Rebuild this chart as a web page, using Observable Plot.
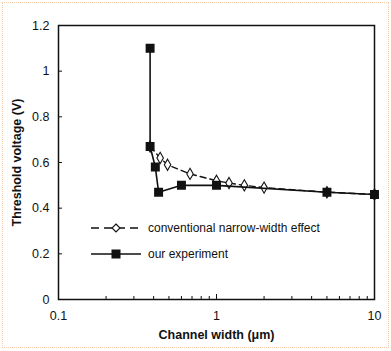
<!DOCTYPE html>
<html>
<head>
<meta charset="utf-8">
<script src="https://cdn.jsdelivr.net/npm/d3@7"></script>
<script src="https://cdn.jsdelivr.net/npm/@observablehq/plot@0.6"></script>
<style>
  html, body { margin: 0; padding: 0; background: #fff; }
  #wrap { position: relative; width: 391px; height: 351px; overflow: hidden; }
  #border { position: absolute; left: 2px; top: 2px; width: 385px; height: 344px; border: 1px dotted #f4c9a4; pointer-events: none; }
  #chart svg { display: block; }
  g[aria-label="x-axis label"] text, g[aria-label="y-axis label"] text { font-weight: bold; font-size: 12.5px; }
  #legend { position: absolute; left: 90px; top: 215px; font-family: "Liberation Sans", Arial, sans-serif; font-size: 12px; color: #111; }
  .row { display: flex; align-items: center; height: 26px; }
  .row svg { margin-right: 6px; }
</style>
</head>
<body>
<div id="wrap">
  <div id="chart"></div>
  <div id="legend"></div>
  <div id="border"></div>
</div>
<script>
// Conventional narrow-width effect (open diamonds, dashed line)
const convWidth = [0.38, 0.44, 0.49, 0.68, 1.0, 1.2, 1.5, 2.0, 5.0, 10.0];
const convVth   = [0.67, 0.62, 0.59, 0.55, 0.52, 0.51, 0.50, 0.49, 0.47, 0.46];
// Our experiment (filled squares, solid line)
const expWidth = [0.38, 0.38, 0.41, 0.43, 0.60, 1.0, 5.0, 10.0];
const expVth   = [1.10, 0.67, 0.58, 0.47, 0.50, 0.50, 0.47, 0.46];
// Axis ticks
const xTicks = [0.1, 1, 10];
const xMinor = [0.2,0.3,0.4,0.5,0.6,0.7,0.8,0.9,2,3,4,5,6,7,8,9];
const yTicks = [0, 0.2, 0.4, 0.6, 0.8, 1, 1.2];
const seriesNames = ["conventional narrow-width effect", "our experiment"];

const conv = convWidth.map((w, i) => ({w, v: convVth[i]}));
const exp = expWidth.map((w, i) => ({w, v: expVth[i]}));

const chart = Plot.plot({
  width: 391,
  height: 351,
  marginLeft: 58,
  marginRight: 17,
  marginTop: 25,
  marginBottom: 52,
  style: { fontFamily: "Liberation Sans, Arial, sans-serif", fontSize: "12.5px", color: "#111", background: "white" },
  x: { type: "log", domain: [0.1, 10] },
  y: { domain: [0, 1.2] },
  marks: [
    Plot.axisX({ ticks: xMinor, tickFormat: () => "", tickSize: -3, label: null }),
    Plot.axisX({ ticks: xTicks, tickFormat: d => String(d), tickSize: -5, tickPadding: 17,
                 label: "Channel width (μm)", labelAnchor: "center", labelArrow: "none", labelOffset: 39 }),
    Plot.axisY({ ticks: yTicks, tickFormat: d => String(d), tickSize: -4, tickPadding: 13,
                 label: "Threshold voltage (V)", labelAnchor: "center", labelArrow: "none", labelOffset: 46 }),
    Plot.frame({ stroke: "#111", strokeWidth: 1.5 }),
    Plot.line(conv, { x: "w", y: "v", stroke: "#111", strokeWidth: 1.4, strokeDasharray: "6,4" }),
    Plot.dot(conv, { x: "w", y: "v", symbol: "diamond", r: 3.4, fill: "white", stroke: "#111", strokeWidth: 1.1 }),
    Plot.line(exp, { x: "w", y: "v", stroke: "#111", strokeWidth: 1.6 }),
    Plot.dot(exp, { x: "w", y: "v", symbol: "square", r: 4.2, fill: "#111", stroke: "#111" })
  ]
});
document.getElementById("chart").appendChild(chart);

// Legend
const legend = document.getElementById("legend");
legend.innerHTML = `
  <div class="row">
    <svg width="52" height="14"><line x1="1" y1="7" x2="51" y2="7" stroke="#111" stroke-width="1.4" stroke-dasharray="8,5"/>
    <path d="M26 3 L30 7 L26 11 L22 7 Z" fill="white" stroke="#111" stroke-width="1.1"/></svg>
    <span>${seriesNames[0]}</span>
  </div>
  <div class="row">
    <svg width="52" height="14"><line x1="1" y1="7" x2="51" y2="7" stroke="#111" stroke-width="1.6"/>
    <rect x="21.5" y="2.5" width="9" height="9" fill="#111"/></svg>
    <span>${seriesNames[1]}</span>
  </div>`;
</script>
</body>
</html>
